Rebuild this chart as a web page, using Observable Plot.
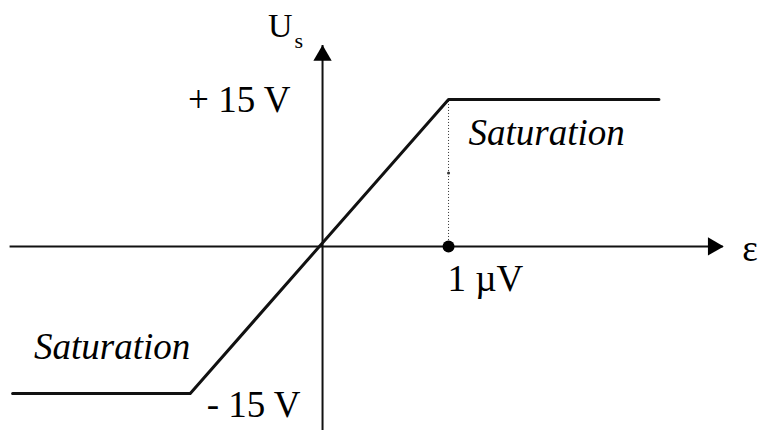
<!DOCTYPE html>
<html>
<head>
<meta charset="utf-8">
<script src="https://cdn.jsdelivr.net/npm/d3@7"></script>
<script src="https://cdn.jsdelivr.net/npm/@observablehq/plot@0.6"></script>
<style>
  html, body { margin: 0; padding: 0; background: #fff; }
</style>
</head>
<body>
<div id="chart"></div>
<script>
// Transfer characteristic of an op-amp: output Us (V) vs input ε (µV)
const eps = [-2.46, -1.05, 1, 2.67];      // ε in µV
const us = [-15, -15, 15, 15];            // Us in V
const satEps = [1];                       // saturation onset (µV)
const satLevels = [15, -15];              // saturation voltages
const xAxisExtent = [-2.48, 3.18];        // drawn extent of the ε axis
const yAxisExtent = [-18.8, 20.5];        // drawn extent of the Us axis
const tickLabels = ["+ 15 V", "- 15 V", "1 µV"];
const axisLabels = ["U", "s", "ε"];
const satLabel = "Saturation";

const curve = eps.map((e, i) => ({e, u: us[i]}));
const font = "'Liberation Serif', 'Times New Roman', serif";

const chart = Plot.plot({
  width: 760,
  height: 430,
  margin: 0,
  x: {domain: [-2.556, 3.476], axis: null},
  y: {domain: [-18.78, 25.1], axis: null},
  style: {background: "#fff"},
  marks: [
    // axes
    Plot.ruleY([0], {x1: xAxisExtent[0], x2: xAxisExtent[1], stroke: "#111", strokeWidth: 2}),
    Plot.ruleX([0], {y1: yAxisExtent[0], y2: yAxisExtent[1], stroke: "#111", strokeWidth: 2}),
    Plot.dot([[xAxisExtent[1], 0]], {x: d => d[0], y: d => d[1], symbol: "triangle", r: 6.8, rotate: 90, dx: -10, fill: "#000", stroke: "none"}),
    Plot.dot([[0, yAxisExtent[1]]], {x: d => d[0], y: d => d[1], symbol: "triangle", r: 6.8, dy: 10, fill: "#000", stroke: "none"}),
    // dotted guide at ε = 1 µV
    Plot.ruleX(satEps, {y1: 0, y2: satLevels[0], stroke: "#333", strokeWidth: 1, strokeDasharray: "1,2"}),
    Plot.dot(satEps, {x: d => d, y: satLevels[0] / 2, r: 1.5, fill: "#333", stroke: "none"}),
    // characteristic
    Plot.line(curve, {x: "e", y: "u", stroke: "#111", strokeWidth: 3}),
    Plot.dot(satEps, {x: d => d, y: 0, r: 6, fill: "#000", stroke: "none"}),
    // labels
    Plot.text([tickLabels[0]], {x: 0, y: satLevels[0], text: d => d, textAnchor: "end", dx: -32, dy: 1, fontFamily: font, fontSize: 37, fill: "#000"}),
    Plot.text([tickLabels[1]], {x: 0, y: satLevels[1], text: d => d, textAnchor: "end", dx: -22, dy: 12, fontFamily: font, fontSize: 37, fill: "#000"}),
    Plot.text([tickLabels[2]], {x: satEps[0], y: 0, text: d => d, textAnchor: "start", dx: -1, dy: 33, fontFamily: font, fontSize: 37, fill: "#000"}),
    Plot.text([satLabel], {x: satEps[0], y: satLevels[0], text: d => d, textAnchor: "start", dx: 20, dy: 34, fontFamily: font, fontSize: 37, fontStyle: "italic", fill: "#000"}),
    Plot.text([satLabel], {x: eps[1], y: satLevels[1], text: d => d, textAnchor: "end", dx: 0, dy: -46, fontFamily: font, fontSize: 37, fontStyle: "italic", fill: "#000"}),
    Plot.text([axisLabels[0]], {x: 0, y: yAxisExtent[1], text: d => d, textAnchor: "end", dx: -30, dy: -19, fontFamily: font, fontSize: 34, fill: "#000"}),
    Plot.text([axisLabels[1]], {x: 0, y: yAxisExtent[1], text: d => d, textAnchor: "start", dx: -28, dy: -5, fontFamily: font, fontSize: 22, fill: "#000"}),
    Plot.text([axisLabels[2]], {x: xAxisExtent[1], y: 0, text: d => d, textAnchor: "start", dx: 19, dy: 3, fontFamily: font, fontSize: 37, fill: "#000"})
  ]
});
document.getElementById("chart").append(chart);
</script>
</body>
</html>
